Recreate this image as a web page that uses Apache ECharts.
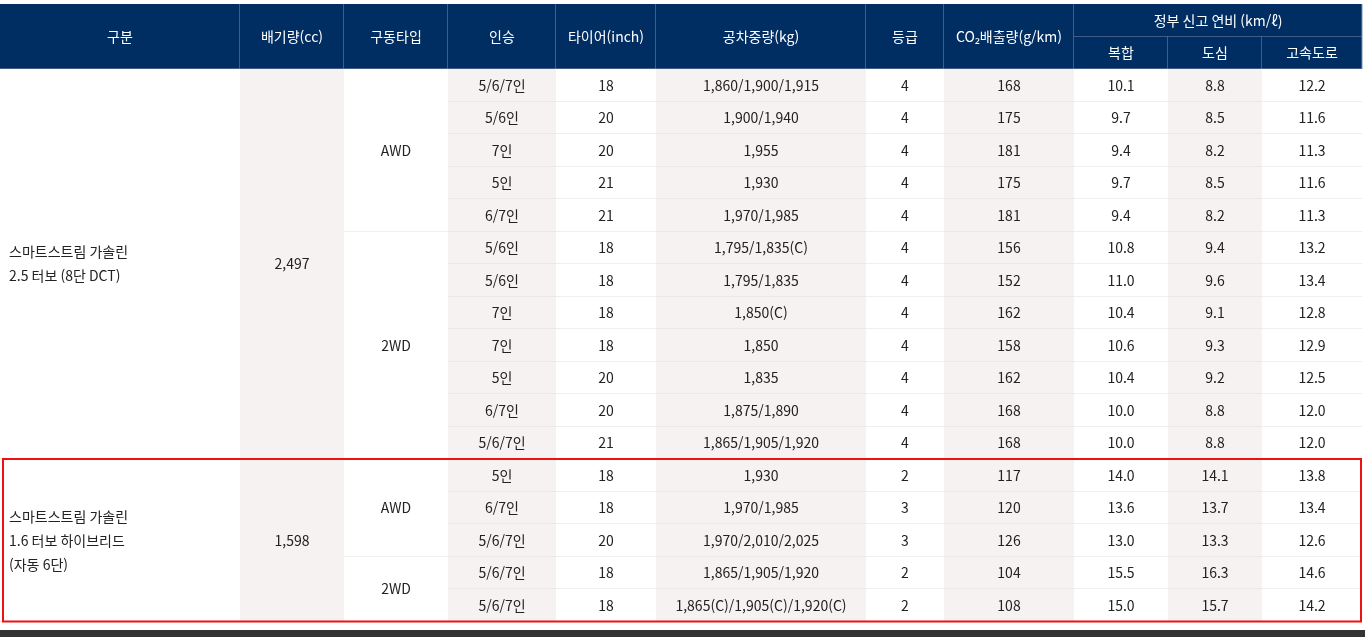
<!DOCTYPE html>
<html lang="ko">
<head>
<meta charset="UTF-8">
<title>제원표</title>
<script src="https://cdn.jsdelivr.net/npm/echarts@6/dist/echarts.min.js"></script>
<style>html,body{margin:0;padding:0;background:#fff}</style>
</head>
<body>
<div id="chartmain" style="width:1365px;height:637px;"></div>
<script type="text/javascript">
// 열 경계 (px)
var colEdges = [0, 240, 344, 448, 556, 656, 866, 944, 1074, 1168, 1262, 1362];
var shadedCols = [1, 3, 5, 7, 9];
var headers = ['구분', '배기량(cc)', '구동타입', '인승', '타이어(inch)', '공차중량(kg)', '등급', 'CO₂배출량(g/km)'];
var fuelHeader = '정부 신고 연비 (km/ℓ)';
var fuelSub = ['복합', '도심', '고속도로'];

var groups = [
    {name: '스마트스트림 가솔린\n2.5 터보 (8단 DCT)', cc: '2,497', from: 0, to: 12},
    {name: '스마트스트림 가솔린\n1.6 터보 하이브리드\n(자동 6단)', cc: '1,598', from: 12, to: 17}
];
var drives = [
    {name: 'AWD', from: 0, to: 5},
    {name: '2WD', from: 5, to: 12},
    {name: 'AWD', from: 12, to: 15},
    {name: '2WD', from: 15, to: 17}
];
var seats = ['5/6/7인', '5/6인', '7인', '5인', '6/7인', '5/6인', '5/6인', '7인', '7인', '5인', '6/7인', '5/6/7인', '5인', '6/7인', '5/6/7인', '5/6/7인', '5/6/7인'];
var tires = ['18', '20', '20', '21', '21', '18', '18', '18', '18', '20', '20', '21', '18', '18', '20', '18', '18'];
var weights = ['1,860/1,900/1,915', '1,900/1,940', '1,955', '1,930', '1,970/1,985', '1,795/1,835(C)', '1,795/1,835', '1,850(C)', '1,850', '1,835', '1,875/1,890', '1,865/1,905/1,920', '1,930', '1,970/1,985', '1,970/2,010/2,025', '1,865/1,905/1,920', '1,865(C)/1,905(C)/1,920(C)'];
var grades = ['4', '4', '4', '4', '4', '4', '4', '4', '4', '4', '4', '4', '2', '3', '3', '2', '2'];
var co2 = ['168', '175', '181', '175', '181', '156', '152', '162', '158', '162', '168', '168', '117', '120', '126', '104', '108'];
var combined = ['10.1', '9.7', '9.4', '9.7', '9.4', '10.8', '11.0', '10.4', '10.6', '10.4', '10.0', '10.0', '14.0', '13.6', '13.0', '15.5', '15.0'];
var city = ['8.8', '8.5', '8.2', '8.5', '8.2', '9.4', '9.6', '9.1', '9.3', '9.2', '8.8', '8.8', '14.1', '13.7', '13.3', '16.3', '15.7'];
var highway = ['12.2', '11.6', '11.3', '11.6', '11.3', '13.2', '13.4', '12.8', '12.9', '12.5', '12.0', '12.0', '13.8', '13.4', '12.6', '14.6', '14.2'];

// 셀 목록: [열시작, 열끝, 행시작, 행끝, 텍스트, 종류]
var cells = [];
headers.forEach(function (h, i) { cells.push([i, i + 1, -2, 0, h, 'head']); });
cells.push([8, 11, -2, -1, fuelHeader, 'head']);
fuelSub.forEach(function (h, i) { cells.push([8 + i, 9 + i, -1, 0, h, 'head']); });
groups.forEach(function (g) {
    cells.push([0, 1, g.from, g.to, g.name, 'left']);
    cells.push([1, 2, g.from, g.to, g.cc, 'body']);
});
drives.forEach(function (d) { cells.push([2, 3, d.from, d.to, d.name, 'body']); });
var leafCols = [seats, tires, weights, grades, co2, combined, city, highway];
for (var r = 0; r < seats.length; r++) {
    for (var c = 0; c < leafCols.length; c++) {
        cells.push([3 + c, 4 + c, r, r + 1, leafCols[c][r], 'body']);
    }
}
var highlight = [[0, 11, 12, 17]];

var FONT = '"Noto Sans CJK KR", "Noto Sans", sans-serif';

function renderCell(params, api) {
    var c0 = api.value(0), c1 = api.value(1), r0 = api.value(2), r1 = api.value(3);
    var kind = cells[params.dataIndex][5];
    var text = cells[params.dataIndex][4];
    var p0 = api.coord([colEdges[c0], r0]);
    var p1 = api.coord([colEdges[c1], r1]);
    var x = p0[0], y = p0[1], w = p1[0] - p0[0], h = p1[1] - p0[1];
    var head = kind === 'head';
    var fill = head ? '#002d62' : (shadedCols.indexOf(c0) >= 0 && c1 - c0 === 1 ? '#f5f2f1' : '#ffffff');
    var children = [
        {type: 'rect', shape: {x: x, y: y, width: w, height: h}, style: {fill: fill}},
        {type: 'line', shape: {x1: x, y1: y + h, x2: x + w, y2: y + h},
            style: {stroke: head ? '#7f8fab' : '#e3dfdb', lineWidth: 1}},
        {type: 'text', style: {
            text: text,
            x: kind === 'left' ? x + 9 : x + w / 2,
            y: y + h / 2,
            align: kind === 'left' ? 'left' : 'center',
            verticalAlign: 'middle',
            fill: head ? '#ffffff' : '#222222',
            font: '14px ' + FONT,
            lineHeight: 24
        }}
    ];
    if (head) {
        children.push({type: 'line', shape: {x1: x + w, y1: y, x2: x + w, y2: y + h},
            style: {stroke: '#7f8fab', lineWidth: 1}});
    }
    return {type: 'group', children: children};
}

function renderBox(params, api) {
    var p0 = api.coord([colEdges[api.value(0)] + 3, api.value(2)]);
    var p1 = api.coord([colEdges[api.value(1)] - 1, api.value(3)]);
    return {type: 'rect', shape: {x: p0[0], y: p0[1], width: p1[0] - p0[0], height: p1[1] - p0[1]},
        style: {fill: 'none', stroke: '#ee1111', lineWidth: 2}};
}

var myChart = echarts.init(document.getElementById('chartmain'));
var option = {
    animation: false,
    backgroundColor: '#ffffff',
    grid: {left: 0, top: 4, width: 1362, height: 617.5},
    xAxis: {type: 'value', min: 0, max: 1362, show: false},
    yAxis: {type: 'value', min: -2, max: 17, inverse: true, show: false},
    graphic: [{type: 'rect', left: 0, bottom: 0, shape: {width: 1365, height: 7}, style: {fill: '#333333'}}],
    series: [
        {type: 'custom', renderItem: renderCell, data: cells.map(function (c) { return c.slice(0, 4); }), silent: true},
        {type: 'custom', renderItem: renderBox, data: highlight, silent: true, z: 5}
    ]
};
myChart.setOption(option);
</script>
</body>
</html>
